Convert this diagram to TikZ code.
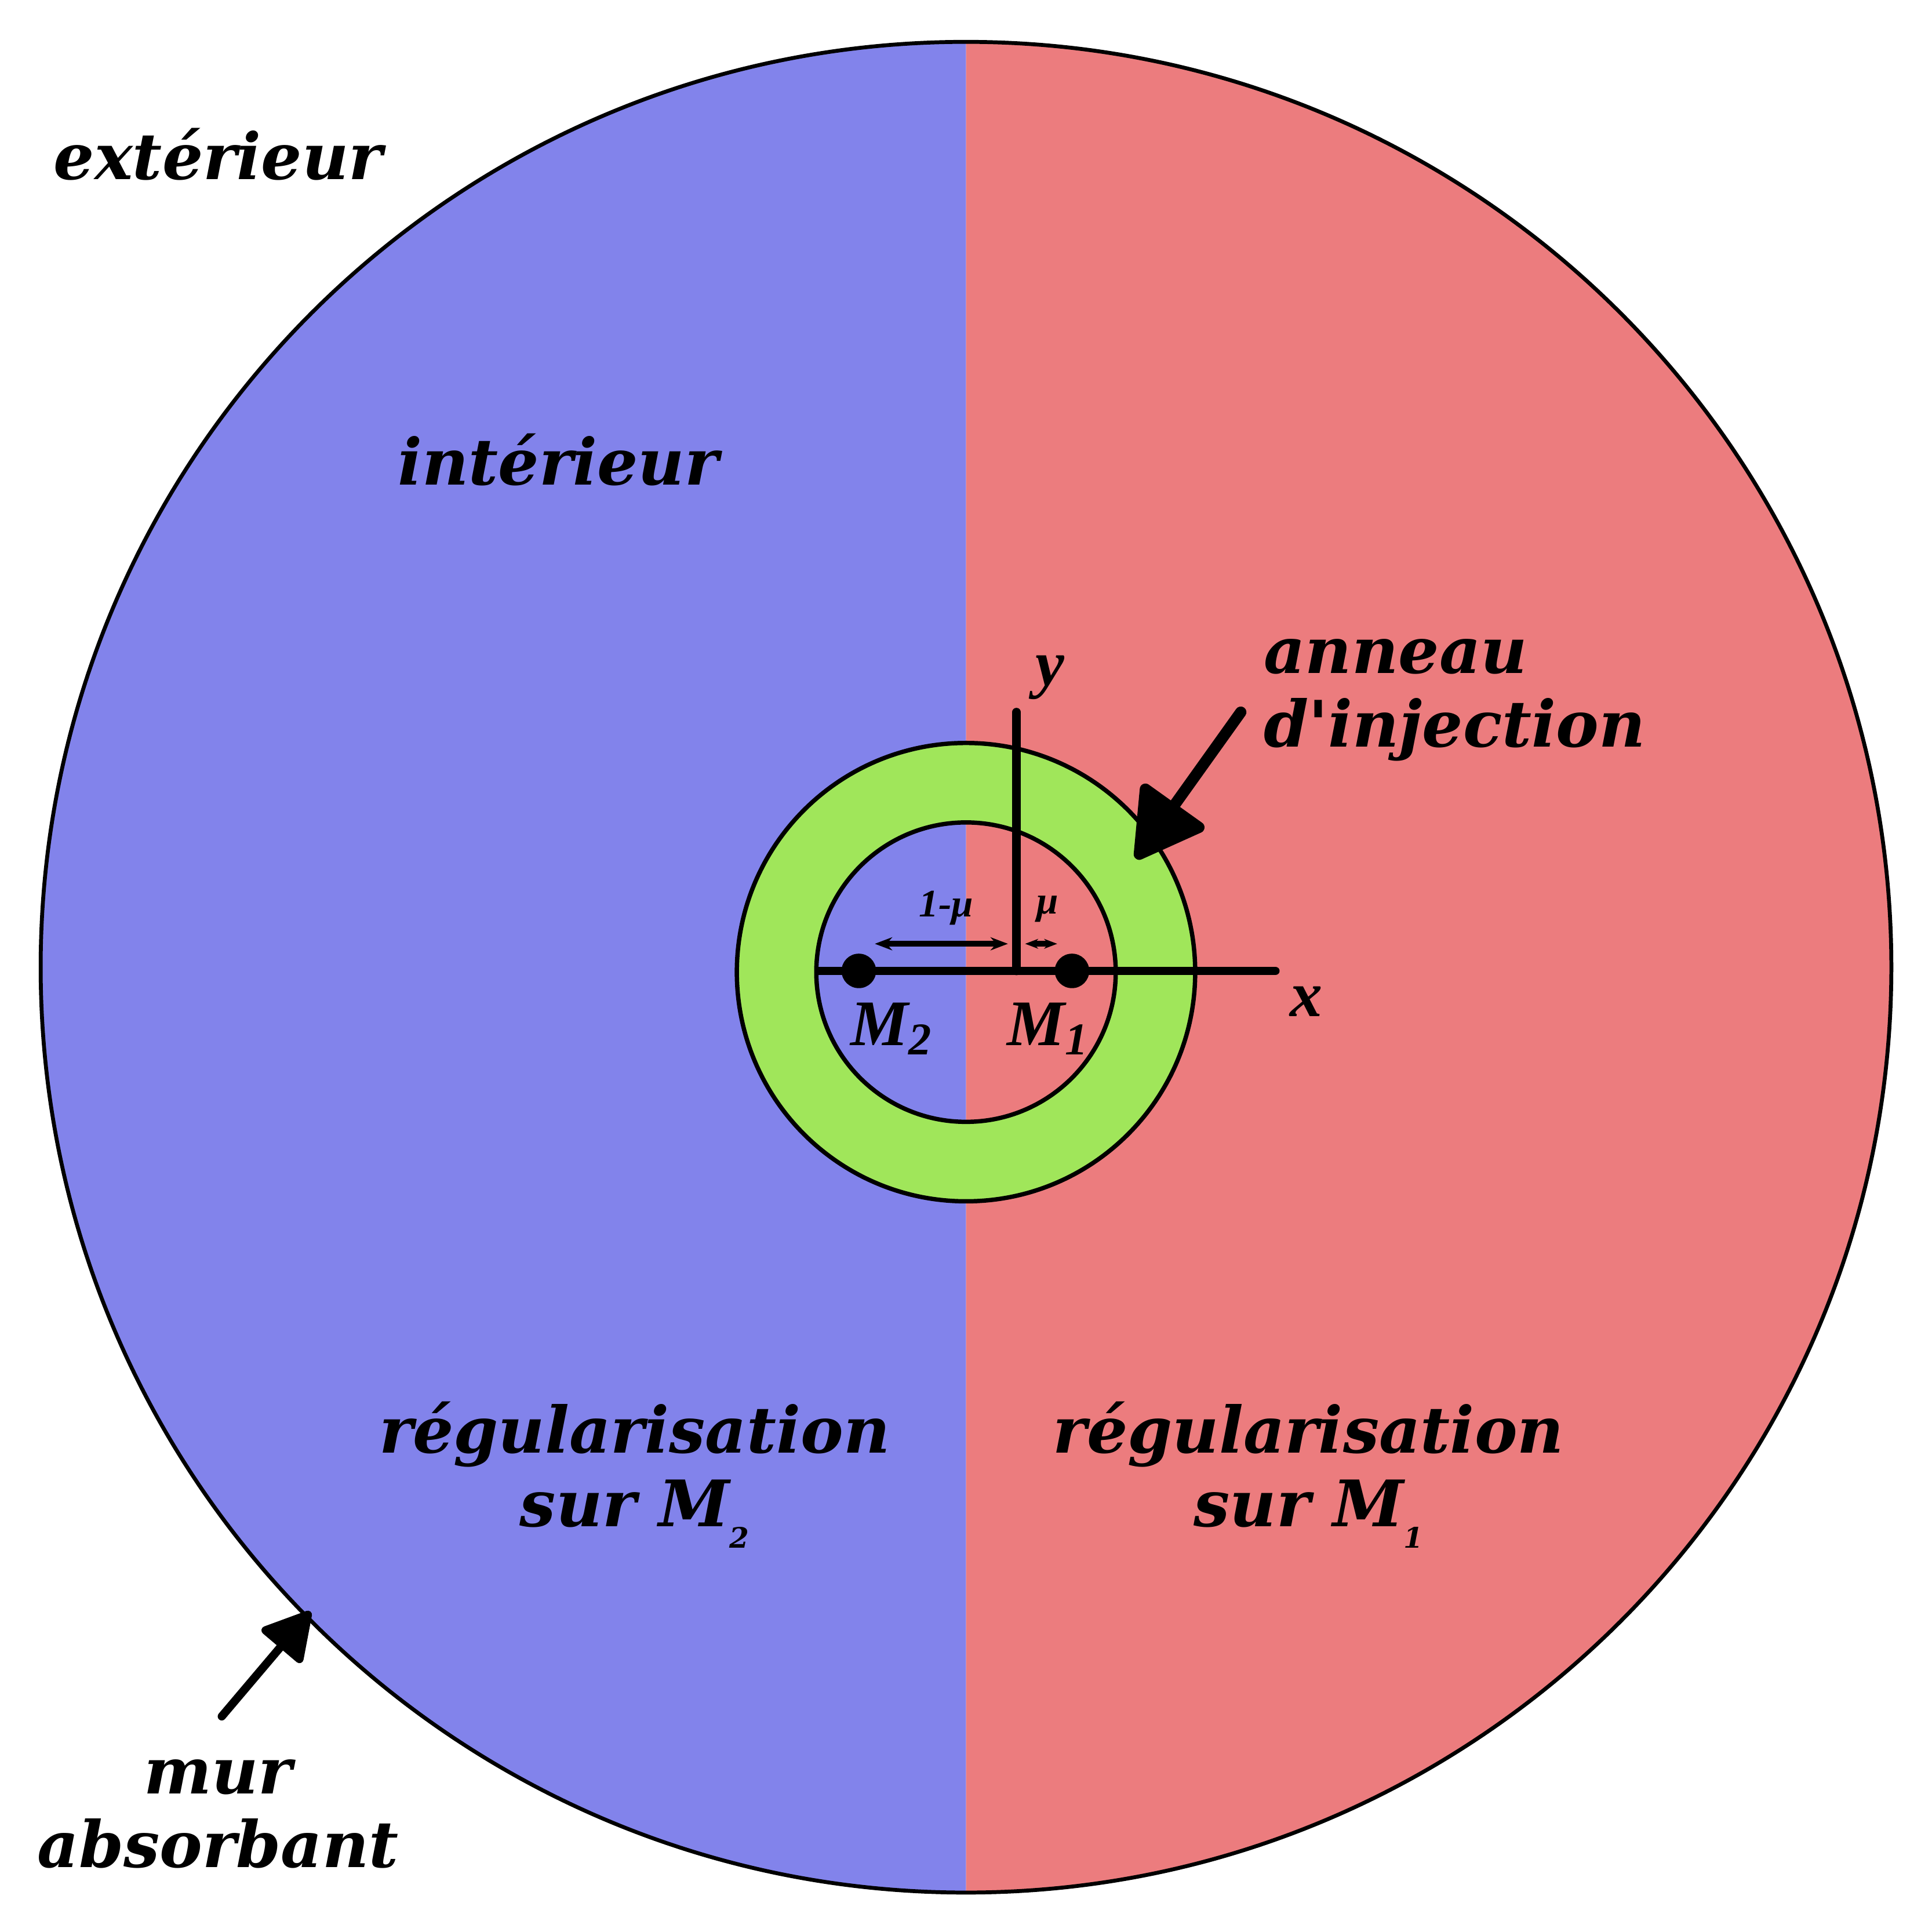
\documentclass[tikz,border=0pt]{standalone}
\usepackage{fontspec}
\setmainfont{DejaVu Serif}
\newfontfamily\timesfont{Liberation Serif}
\usetikzlibrary{arrows.meta}

\definecolor{bleuzone}{RGB}{130,131,235}
\definecolor{rougezone}{RGB}{236,124,126}
\definecolor{vertanneau}{RGB}{160,230,90}

\tikzset{
  etiquette/.style={font=\fontsize{14.8}{17}\selectfont\bfseries\itshape, align=center, inner sep=0pt},
  masse/.style={font=\timesfont\fontsize{15}{15}\selectfont\bfseries\itshape, inner sep=0pt},
  fleche/.style={line width=2.6pt, line cap=round, -{Triangle[length=17pt,width=19pt,round]}},
  axe/.style={line width=2pt, line cap=round},
}

\newcommand{\indice}[1]{\raisebox{-5pt}{\fontsize{6.5}{7}\selectfont #1}}

\begin{document}
\begin{tikzpicture}
  \useasboundingbox (0,0) rectangle (15.68,15.68);

  % centres
  \coordinate (centre) at (7.84,7.83);
  \coordinate (anneau) at (7.84,7.79);
  \coordinate (origine) at (8.25,7.80);

  % deux moities du domaine
  \fill[bleuzone] (centre) ++(0,7.51) arc (90:270:7.51) -- cycle;
  \fill[rougezone] (centre) ++(0,-7.51) arc (-90:90:7.51) -- cycle;
  \draw[line width=0.9pt] (centre) circle (7.51);

  % anneau d'injection
  \fill[vertanneau, even odd rule] (anneau) circle (1.86) (anneau) circle (1.215);
  \draw[line width=1pt] (anneau) circle (1.86);
  \draw[line width=1pt] (anneau) circle (1.215);

  % axes
  \coordinate (xmin) at (6.65,7.80);
  \coordinate (xmax) at (10.35,7.80);
  \coordinate (ymax) at (8.25,9.90);
  \draw[axe] (xmin) -- (xmax);
  \draw[axe] (origine) -- (ymax);
  \node[masse] (lx) at (10.60,7.55) {x};
  \node[masse] (ly) at (8.52,10.18) {y};

  % masses
  \foreach \nom/\px in {M2/6.97, M1/8.70} {
    \fill (\px,7.80) circle (0.14) coordinate (\nom);
  }
  \node[masse] (lM2) at (7.24,7.33) {M\textsubscript{2}};
  \node[masse] (lM1) at (8.51,7.33) {M\textsubscript{1}};

  % distances
  \coordinate (d1a) at (7.10,8.02);
  \coordinate (d1b) at (8.18,8.02);
  \coordinate (d2a) at (8.32,8.02);
  \coordinate (d2b) at (8.58,8.02);
  \draw[line width=1.3pt, {Stealth[length=4pt]}-{Stealth[length=4pt]}] (d1a) -- (d1b);
  \draw[line width=1.3pt, {Stealth[length=3pt]}-{Stealth[length=3pt]}] (d2a) -- (d2b);
  \node[masse, font=\timesfont\fontsize{9}{9}\selectfont\bfseries\itshape] (l1mu) at (7.68,8.31) {1-μ};
  \node[masse, font=\timesfont\fontsize{9}{9}\selectfont\bfseries\itshape] (lmu) at (8.50,8.30) {μ};

  % textes
  \node[etiquette] (ext) at (1.77,14.43) {extérieur};
  \node[etiquette] (int) at (4.53,11.95) {intérieur};
  \node[etiquette, align=left, anchor=west] (inj) at (10.25,10.00) {anneau\\d\textquotesingle injection};
  \node[etiquette] (reg2) at (5.15,3.71) {régularisation\\sur M\indice{2}};
  \node[etiquette] (reg1) at (10.62,3.71) {régularisation\\sur M\indice{1}};
  \node[etiquette] (mur) at (1.77,0.96) {mur\\absorbant};

  % fleches
  \coordinate (injdep) at (10.07,9.90);
  \coordinate (injarr) at (9.22,8.71);
  \coordinate (murdep) at (1.80,1.75);
  \coordinate (murarr) at (2.52,2.60);
  \draw[fleche] (injdep) -- (injarr);
  \draw[fleche, line width=1.9pt, -{Triangle[length=12pt,width=13pt,round]}] (murdep) -- (murarr);
\end{tikzpicture}
\end{document}
